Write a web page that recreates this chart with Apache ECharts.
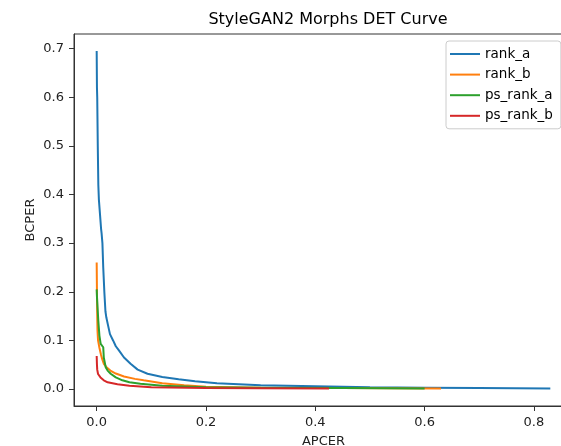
<!DOCTYPE html>
<html>
<head>
<meta charset="utf-8">
<script src="https://cdn.jsdelivr.net/npm/echarts@6/dist/echarts.min.js"></script>
<style>
  html, body { margin: 0; padding: 0; background: #fff; }
  #chart { width: 561px; height: 446px; }
</style>
</head>
<body>
<div id="chart"></div>
<script>
// DET curve points, [APCER, BCPER]
const rankA = [[0,0.695],[0.0005,0.62],[0.001,0.6],[0.002,0.5],[0.003,0.42],[0.004,0.39],[0.006,0.36],[0.008,0.33],
  [0.009,0.32],[0.0105,0.30],[0.012,0.25],[0.014,0.2],[0.016,0.16],[0.0177,0.147],[0.021,0.13],[0.0243,0.113],
  [0.03,0.1],[0.035,0.088],[0.041,0.079],[0.05,0.065],[0.062,0.052],[0.075,0.04],[0.093,0.0315],[0.12,0.025],
  [0.15,0.02],[0.18,0.016],[0.22,0.012],[0.3,0.008],[0.4,0.006],[0.5,0.004],[0.6,0.003],[0.7,0.002],[0.83,0.001]]
const rankB = [[0,0.26],[0.0005,0.2],[0.001,0.15],[0.0015,0.12],[0.0025,0.1],[0.005,0.085],[0.008,0.07],[0.01,0.062],
  [0.013,0.052],[0.018,0.045],[0.025,0.038],[0.035,0.032],[0.05,0.026],[0.07,0.021],[0.086,0.018],[0.12,0.012],
  [0.16,0.008],[0.2,0.005],[0.3,0.003],[0.45,0.002],[0.63,0.001]]
const psRankA = [[0,0.205],[0.0005,0.19],[0.001,0.18],[0.003,0.14],[0.005,0.11],[0.0073,0.093],[0.012,0.086],
  [0.013,0.065],[0.0165,0.045],[0.02,0.038],[0.0256,0.0315],[0.035,0.024],[0.047,0.018],[0.06,0.014],[0.08,0.011],
  [0.12,0.007],[0.2,0.004],[0.3,0.003],[0.45,0.002],[0.6,0.001]]
const psRankB = [[0,0.068],[0.0005,0.05],[0.001,0.04],[0.0025,0.031],[0.007,0.024],[0.013,0.018],[0.02,0.014],
  [0.038,0.01],[0.06,0.007],[0.1,0.004],[0.2,0.002],[0.3,0.0015],[0.425,0.001]]

const seriesNames = ['rank_a', 'rank_b', 'ps_rank_a', 'ps_rank_b']
const seriesData = [rankA, rankB, psRankA, psRankB]
const colors = ['#1f77b4', '#ff7f0e', '#2ca02c', '#d62728']
const xTicks = [0, 0.2, 0.4, 0.6, 0.8]
const yTicks = [0, 0.1, 0.2, 0.3, 0.4, 0.5, 0.6, 0.7]

const font = 'DejaVu Sans'
const spine = '#333'
const chart = echarts.init(document.getElementById('chart'))

const axisCommon = {
  axisLine: { show: true, onZero: false, lineStyle: { color: spine, width: 1 } },
  axisTick: { show: true, length: 5, lineStyle: { color: spine } },
  axisLabel: { color: '#222', fontFamily: font, fontSize: 13 },
  splitLine: { show: false },
  nameMoveOverlap: false,
  nameTextStyle: { color: '#222', fontFamily: font, fontSize: 13 }
}

const option = {
  animation: false,
  color: colors,
  title: {
    text: 'StyleGAN2 Morphs DET Curve',
    left: 323, top: 7, textAlign: 'center',
    textStyle: { fontFamily: font, fontSize: 16, fontWeight: 'normal', color: '#000' }
  },
  legend: {
    orient: 'vertical', left: 446, top: 41,
    padding: [6, 8, 6, 3],
    itemWidth: 30, itemHeight: 14, itemGap: 6.6,
    itemStyle: { opacity: 0 },
    backgroundColor: '#fff', borderColor: '#ccc', borderWidth: 1, borderRadius: 3,
    textStyle: { fontFamily: font, fontSize: 13.5, color: '#000' },
    data: seriesNames
  },
  grid: {
    // 右边框在画面外，和原图一样被裁掉
    left: 74, top: 34, height: 372, width: 499,
    outerBoundsMode: 'none',
    containLabel: false,
    show: true, borderColor: spine, borderWidth: 1
  },
  xAxis: Object.assign({}, axisCommon, {
    type: 'value', min: -0.0415, max: 0.8715,
    name: 'APCER', nameLocation: 'middle', nameGap: 29,
    axisTick: Object.assign({}, axisCommon.axisTick, { customValues: xTicks }),
    axisLabel: Object.assign({}, axisCommon.axisLabel, { customValues: xTicks, margin: 10, formatter: v => v.toFixed(1) })
  }),
  yAxis: Object.assign({}, axisCommon, {
    type: 'value', min: -0.03475, max: 0.7298,
    name: 'BCPER', nameLocation: 'middle', nameGap: 37, nameRotate: 90,
    axisTick: Object.assign({}, axisCommon.axisTick, { customValues: yTicks }),
    axisLabel: Object.assign({}, axisCommon.axisLabel, { customValues: yTicks, margin: 10, formatter: v => v.toFixed(1) })
  }),
  series: seriesNames.map((name, i) => ({
    name: name,
    type: 'line',
    data: seriesData[i],
    symbol: 'none',
    lineStyle: { width: 2, color: colors[i] },
    itemStyle: { color: colors[i] }
  }))
}

chart.setOption(option)
</script>
</body>
</html>
